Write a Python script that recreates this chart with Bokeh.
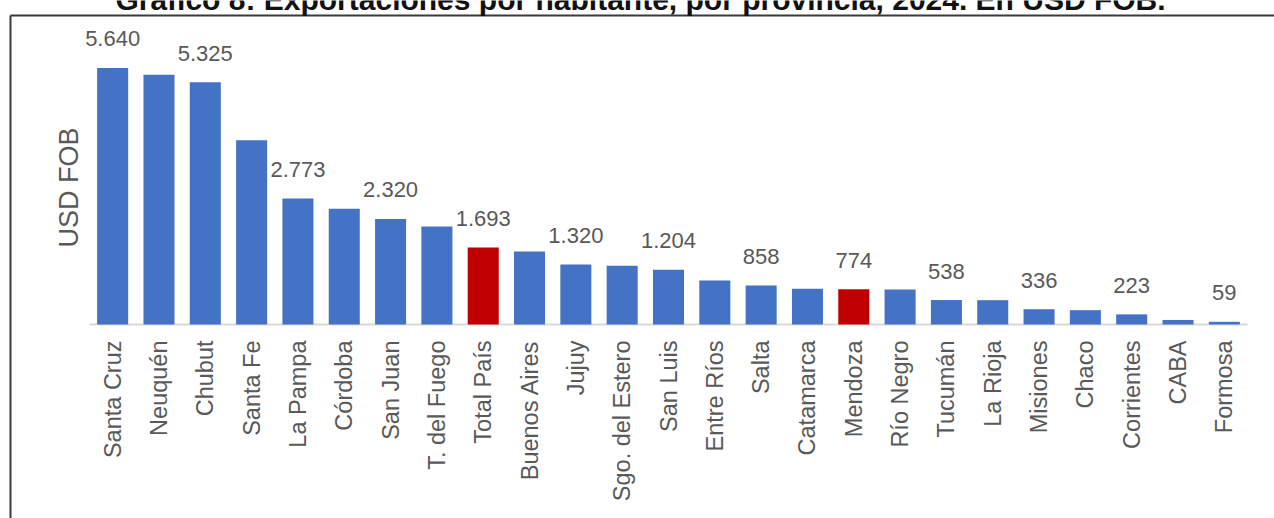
import math
from bokeh.plotting import figure
from bokeh.models import Range1d, ColumnDataSource
from bokeh.embed import file_html
from bokeh.resources import INLINE
from bokeh.core.properties import value

# ---- data ----
title_text = "Gráfico 8: Exportaciones por habitante, por provincia, 2024. En USD FOB."
y_label = "USD FOB"
provinces = ["Santa Cruz", "Neuquén", "Chubut", "Santa Fe", "La Pampa", "Córdoba",
             "San Juan", "T. del Fuego", "Total País", "Buenos Aires", "Jujuy",
             "Sgo. del Estero", "San Luis", "Entre Ríos", "Salta", "Catamarca",
             "Mendoza", "Río Negro", "Tucumán", "La Rioja", "Misiones", "Chaco",
             "Corrientes", "CABA", "Formosa"]
values_usd = [5640, 5490, 5325, 4050, 2773, 2545, 2320, 2155, 1693, 1605, 1320,
              1290, 1204, 967, 858, 785, 774, 770, 538, 535, 336, 315, 223, 100, 59]
highlighted = ["Total País", "Mendoza"]

# ---- styling / layout ----
BLUE = "#4472C4"
RED = "#C00000"
GREY_TXT = "#595959"
FONT = "Liberation Sans"

W, H = 1274, 518
PLOT_LEFT, PLOT_RIGHT, BASE_Y = 89, 1247, 324     # pixel geometry of the chart area
PX_PER_UNIT = 0.04548
n = len(provinces)
step = (PLOT_RIGHT - PLOT_LEFT) / n


def x_at(px):
    return (px - PLOT_LEFT) / step - 0.5


def y_at(py):
    return (BASE_Y - py) / PX_PER_UNIT


idx = list(range(n))
colors = [RED if name in highlighted else BLUE for name in provinces]
src = ColumnDataSource(dict(x=idx, top=values_usd, color=colors, name=provinces))

lab_idx = list(range(0, n, 2))
lab_src = ColumnDataSource(dict(
    x=lab_idx,
    y=[values_usd[i] for i in lab_idx],
    t=[f"{values_usd[i]:,}".replace(",", ".") for i in lab_idx],
))

p = figure(width=W, height=H,
           x_range=Range1d(x_at(0), x_at(W)),
           y_range=Range1d(y_at(H), y_at(0)),
           x_axis_location=None, y_axis_location=None,
           output_backend="svg", toolbar_location=None,
           min_border=0)
p.outline_line_color = None
p.grid.visible = False
p.background_fill_color = "white"
p.border_fill_color = "white"

# frame of the figure box (left and top edges)
p.segment(x0=[x_at(10), x_at(10)], y0=[y_at(15), y_at(15)],
          x1=[x_at(10), x_at(W + 10)], y1=[y_at(H + 10), y_at(15)],
          line_color="#3a3a3a", line_width=2)

# baseline
p.segment(x0=[-0.5], y0=[0], x1=[n - 0.5], y1=[0], line_color="#D9D9D9", line_width=2)

# bars
p.vbar(x="x", top="top", width=0.67, color="color", line_color=None, source=src)

# data labels
p.text(x="x", y="y", text="t", source=lab_src, y_offset=-29,
       text_align="center", text_baseline="middle",
       text_font=value(FONT), text_font_size="22px", text_color=GREY_TXT)

# category labels (vertical, below the baseline)
p.text(x="x", y=0, text="name", source=src, angle=math.pi / 2, y_offset=16,
       text_align="right", text_baseline="middle",
       text_font=value(FONT), text_font_size="23.5px", text_color=GREY_TXT)

# y axis title
p.text(x=[x_at(68.5)], y=[y_at(187)], text=[y_label], angle=math.pi / 2,
       text_align="center", text_baseline="middle",
       text_font=value(FONT), text_font_size="27px", text_color=GREY_TXT)

# chart title (cut at the top, as in the source image)
p.text(x=[x_at(640)], y=[y_at(-1.5)], text=[title_text],
       text_align="center", text_baseline="middle",
       text_font=value(FONT), text_font_size="30px", text_font_style="bold",
       text_color="#111111")

open("out.html", "w").write(file_html(p, INLINE))
